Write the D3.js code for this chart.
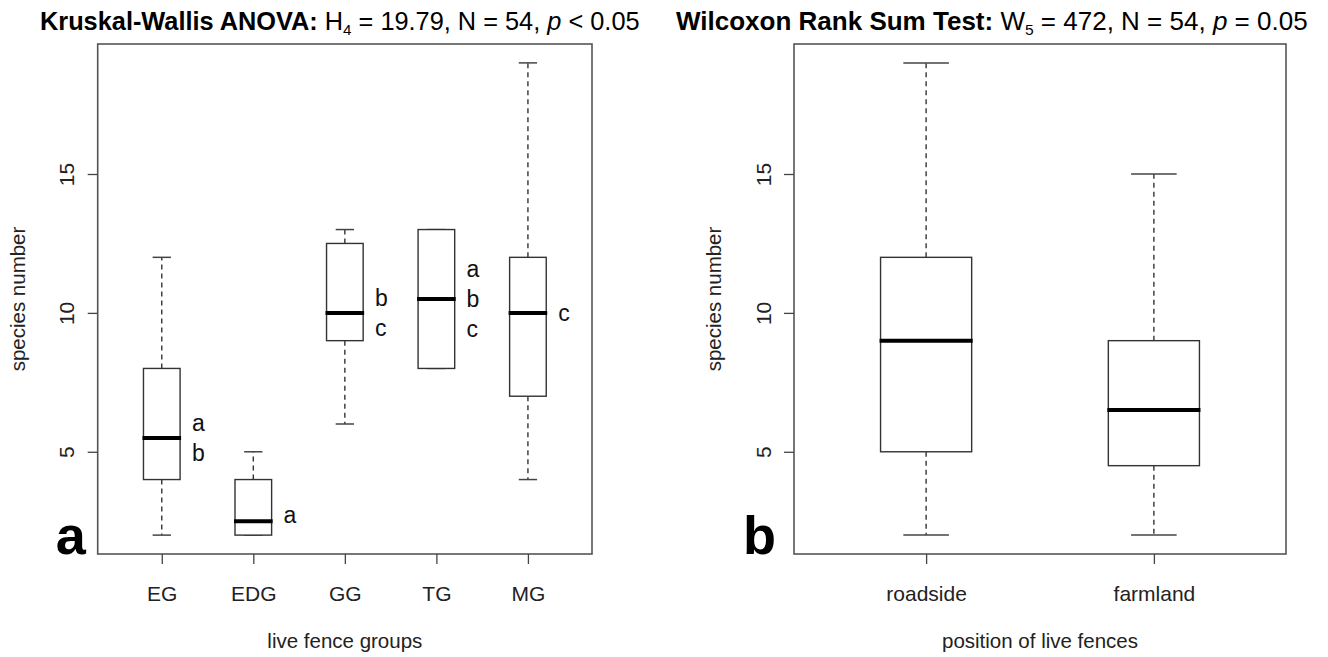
<!DOCTYPE html>
<html>
<head>
<meta charset="utf-8">
<script src="https://cdn.jsdelivr.net/npm/d3@7"></script>
<style>
  body { margin: 0; background: #fff; }
  svg { display: block; }
  text { font-family: "Liberation Sans", Arial, Helvetica, sans-serif; }
</style>
</head>
<body>
<svg id="chart" width="1328" height="657"></svg>
<script>
// ---- Panel a: species number by live fence group ----
const groupsA = ["EG", "EDG", "GG", "TG", "MG"];
const lowA    = [2, 2, 6, 8, 4];
const q1A     = [4, 2, 9, 8, 7];
const medA    = [5.5, 2.5, 10, 10.5, 10];
const q3A     = [8, 4, 12.5, 13, 12];
const highA   = [12, 5, 13, 13, 19];
const lettersA = [["a", "b"], ["a"], ["b", "c"], ["a", "b", "c"], ["c"]];

// ---- Panel b: species number by position of live fences ----
const groupsB = ["roadside", "farmland"];
const lowB    = [2, 2];
const q1B     = [5, 4.5];
const medB    = [9, 6.5];
const q3B     = [12, 9];
const highB   = [19, 15];

const yTicks = [5, 10, 15];

const svg = d3.select("#chart");
const FONT = '"Liberation Sans", Arial, Helvetica, sans-serif';

function rows(groups, low, q1, med, q3, high, letters) {
  return groups.map((g, i) => ({
    name: g, pos: i + 1, low: low[i], q1: q1[i], med: med[i], q3: q3[i], high: high[i],
    letters: letters ? letters[i] : []
  }));
}

function drawPanel(opts) {
  const { data, left, right, top, bottom, xTitle, yTitle, tag, tagGap, titleParts, titleX, titleW } = opts;
  const n = data.length;
  const lo = d3.min(data, d => d.low), hi = d3.max(data, d => d.high);
  const pad = (hi - lo) * 0.04;
  const y = d3.scaleLinear().domain([lo - pad, hi + pad]).range([bottom, top]);
  const x = d3.scaleLinear().domain([0.5 - 0.04 * n, n + 0.5 + 0.04 * n]).range([left, right]);
  const unit = x(1) - x(0);
  const boxW = unit * 0.4;
  const g = svg.append("g");

  // whiskers (dashed)
  g.selectAll("line.wu").data(data).join("line")
    .attr("x1", d => x(d.pos)).attr("x2", d => x(d.pos))
    .attr("y1", d => y(d.q3)).attr("y2", d => y(d.high))
    .attr("stroke", "#333").attr("stroke-width", 1.4).attr("stroke-dasharray", "5,4");
  g.selectAll("line.wl").data(data).join("line")
    .attr("x1", d => x(d.pos)).attr("x2", d => x(d.pos))
    .attr("y1", d => y(d.q1)).attr("y2", d => y(d.low))
    .attr("stroke", "#333").attr("stroke-width", 1.4).attr("stroke-dasharray", "5,4");
  // staples
  ["high", "low"].forEach(k => {
    g.selectAll("line.st-" + k).data(data).join("line")
      .attr("x1", d => x(d.pos) - boxW / 4).attr("x2", d => x(d.pos) + boxW / 4)
      .attr("y1", d => y(d[k])).attr("y2", d => y(d[k]))
      .attr("stroke", "#444").attr("stroke-width", 1.5);
  });
  // boxes
  g.selectAll("rect.box").data(data).join("rect")
    .attr("x", d => x(d.pos) - boxW / 2).attr("width", boxW)
    .attr("y", d => y(d.q3)).attr("height", d => y(d.q1) - y(d.q3))
    .attr("fill", "#fff").attr("stroke", "#333").attr("stroke-width", 1.4);
  // medians
  g.selectAll("line.med").data(data).join("line")
    .attr("x1", d => x(d.pos) - boxW / 2 - 1).attr("x2", d => x(d.pos) + boxW / 2 + 1)
    .attr("y1", d => y(d.med)).attr("y2", d => y(d.med))
    .attr("stroke", "#000").attr("stroke-width", 4);

  // significance letters beside the boxes
  data.forEach(d => {
    const k = d.letters.length;
    if (!k) return;
    const nudge = d.name === "EDG" ? -7 : 0;
    d.letters.forEach((L, j) => {
      g.append("text")
        .attr("x", x(d.pos + 0.33))
        .attr("y", y(d.med) + nudge + (j - (k - 1) / 2) * 30)
        .attr("dy", "0.36em")
        .attr("font-size", 23).attr("fill", "#111")
        .text(L);
    });
  });

  // frame
  g.append("rect").attr("x", left).attr("y", top)
    .attr("width", right - left).attr("height", bottom - top)
    .attr("fill", "none").attr("stroke", "#555").attr("stroke-width", 1.6);

  // y axis
  const ya = g.append("g").attr("transform", `translate(${left},0)`)
    .call(d3.axisLeft(y).tickValues(yTicks).tickSize(10).tickSizeOuter(0));
  ya.select(".domain").remove();
  ya.selectAll(".tick line").attr("stroke", "#444").attr("stroke-width", 1.3);
  ya.selectAll(".tick text")
    .attr("x", null).attr("dy", "0.36em")
    .attr("text-anchor", "middle")
    .attr("transform", "translate(-31,0) rotate(-90)")
    .attr("font-size", 21).attr("fill", "#222")
    .style("font-family", FONT);

  // x axis
  const xa = g.append("g").attr("transform", `translate(0,${bottom})`)
    .call(d3.axisBottom(x).tickValues(data.map(d => d.pos)).tickFormat((v, i) => data[i].name)
      .tickSize(10).tickSizeOuter(0));
  xa.select(".domain").remove();
  xa.selectAll(".tick line").attr("stroke", "#444").attr("stroke-width", 1.3);
  xa.selectAll(".tick text")
    .attr("y", 47).attr("dy", null)
    .attr("font-size", 21).attr("fill", "#222")
    .style("font-family", FONT);

  // axis titles
  g.append("text").attr("x", (left + right) / 2).attr("y", bottom + 94)
    .attr("text-anchor", "middle").attr("font-size", 20.5).attr("fill", "#222")
    .text(xTitle);
  g.append("text")
    .attr("transform", `translate(${left - 80},${(top + bottom) / 2}) rotate(-90)`)
    .attr("dy", "0.36em")
    .attr("text-anchor", "middle").attr("font-size", 20.5).attr("fill", "#222")
    .text(yTitle);

  // panel tag
  g.append("text").attr("x", left - tagGap).attr("y", bottom)
    .attr("text-anchor", "end").attr("font-size", 54).attr("font-weight", "bold")
    .attr("fill", "#000").text(tag);

  // test statistic heading
  const tg = g.append("g");
  const t = tg.append("text").attr("x", 0).attr("y", 0).attr("font-size", 25).attr("fill", "#000");
  titleParts.forEach(p => {
    const s = t.append("tspan").text(p.text);
    if (p.bold) s.attr("font-weight", "bold");
    if (p.italic) s.attr("font-style", "italic");
    if (p.sub) s.attr("font-size", 15).attr("dy", 5);
    if (p.after) s.attr("dy", -5);
  });
  const w = t.node().getComputedTextLength();
  tg.attr("transform", `translate(${titleX},30) scale(${titleW / w},1)`);
}

drawPanel({
  data: rows(groupsA, lowA, q1A, medA, q3A, highA, lettersA),
  left: 97.7, right: 592, top: 44, bottom: 554,
  xTitle: "live fence groups", yTitle: "species number", tag: "a", tagGap: 12,
  titleX: 40, titleW: 600,
  titleParts: [
    { text: "Kruskal-Wallis ANOVA:", bold: true },
    { text: " H" },
    { text: "4", sub: true },
    { text: " = 19.79, N = 54, ", after: true },
    { text: "p", italic: true },
    { text: " < 0.05" }
  ]
});

drawPanel({
  data: rows(groupsB, lowB, q1B, medB, q3B, highB, null),
  left: 794, right: 1286, top: 44, bottom: 554,
  xTitle: "position of live fences", yTitle: "species number", tag: "b", tagGap: 18,
  titleX: 676, titleW: 632,
  titleParts: [
    { text: "Wilcoxon Rank Sum Test:", bold: true },
    { text: " W" },
    { text: "5", sub: true },
    { text: " = 472, N = 54, ", after: true },
    { text: "p", italic: true },
    { text: " = 0.05" }
  ]
});
</script>
</body>
</html>
